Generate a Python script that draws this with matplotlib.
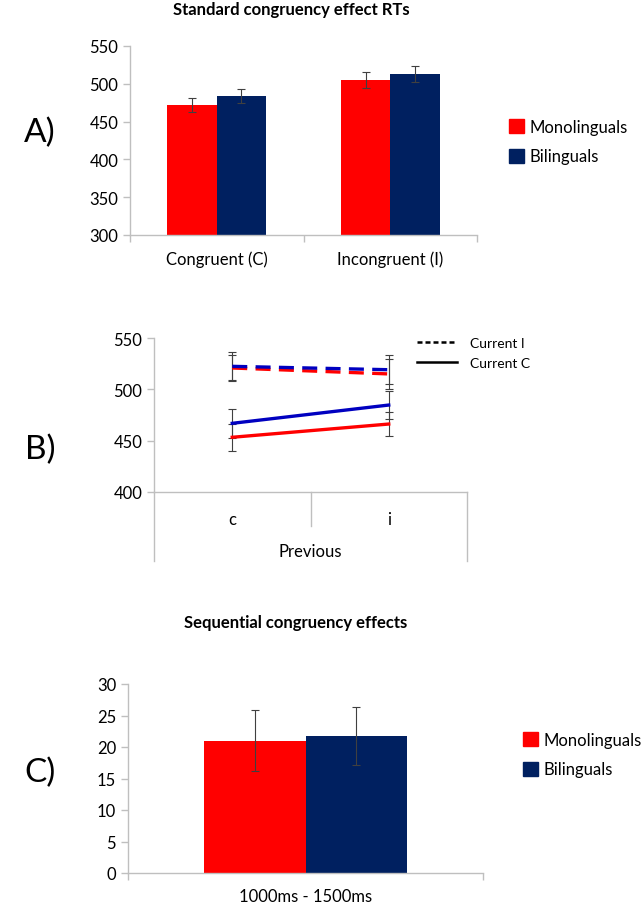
import numpy as np
import matplotlib
matplotlib.use('Agg')
import matplotlib.pyplot as plt
from matplotlib.patches import Patch
from matplotlib.lines import Line2D

plt.rcParams['font.family'] = ['Lato', 'DejaVu Sans']

RED = '#ff0000'
NAVY = '#002060'
BLUE = '#0000c0'
GRID = '#bfbfbf'
ERR = '#404040'

groups = ['Monolinguals', 'Bilinguals']

# panel A: standard congruency effect
a_cats = ['Congruent (C)', 'Incongruent (I)']
a_mono = [472, 504.5]
a_bi = [483.5, 512.5]
a_mono_err = [9.5, 10.5]
a_bi_err = [9.5, 10.5]

# panel B: previous x current
b_prev = ['c', 'i']
b_mono_I = [520.8, 515.0]
b_bi_I = [522.4, 519.1]
b_mono_C = [453.3, 466.2]
b_bi_C = [466.9, 484.7]
b_mono_I_err = [13, 15]
b_bi_I_err = [13.5, 14]
b_mono_C_err = [13, 12]
b_bi_C_err = [14, 14]

# panel C: sequential congruency effects
c_cat = ['1000ms - 1500ms']
c_mono = [21.0]
c_bi = [21.8]
c_mono_err = [4.85]
c_bi_err = [4.6]

W, H = 642, 904
fig = plt.figure(figsize=(W / 100, H / 100), dpi=100)


def px_axes(l, t, r, b):
    return fig.add_axes([l / W, 1 - b / H, (r - l) / W, (b - t) / H])


def style(ax):
    for s in ['top', 'right']:
        ax.spines[s].set_visible(False)
    for s in ['left', 'bottom']:
        ax.spines[s].set_color(GRID)
        ax.spines[s].set_linewidth(1)
    ax.tick_params(axis='y', colors=GRID, labelcolor='black', labelsize=12, length=5, width=1)
    ax.tick_params(axis='x', which='major', length=0, labelsize=12, pad=11)
    ax.tick_params(axis='x', which='minor', colors=GRID, length=5, width=1)


def group_legend(x, y):
    fig.legend(handles=[Patch(color=RED, label=groups[0]), Patch(color=NAVY, label=groups[1])],
               loc='upper left', bbox_to_anchor=(x / W, 1 - y / H), frameon=False,
               borderpad=0, borderaxespad=0, fontsize=12, handlelength=0.9,
               handleheight=0.9, handletextpad=0.35, labelspacing=0.8)


bw = 0.285
ekw = dict(ecolor=ERR, elinewidth=0.8, capsize=3, capthick=0.8)

# ---- A
ax = px_axes(130, 47, 477, 236)
x = np.arange(len(a_cats))
ax.bar(x - bw / 2, a_mono, bw, color=RED, yerr=a_mono_err, error_kw=ekw)
ax.bar(x + bw / 2, a_bi, bw, color=NAVY, yerr=a_bi_err, error_kw=ekw)
ax.set_ylim(300, 550)
ax.set_yticks(np.arange(300, 551, 50))
ax.set_xlim(-0.5, 1.5)
ax.set_xticks(x)
ax.set_xticklabels(a_cats)
ax.set_xticks([-0.5, 0.5, 1.5], minor=True)
style(ax)
fig.text(291 / W, 1 - 10 / H, 'Standard congruency effect RTs', ha='center', va='center',
         fontsize=12, fontweight='bold')
fig.text(40 / W, 1 - 133 / H, 'A)', ha='center', va='center', fontsize=24)
group_legend(509, 120)

# ---- B
ax = px_axes(154, 339, 467, 493)
xb = np.arange(len(b_prev))
lw = 2.4
dash = (0, (4.5, 2.5))
ebkw = dict(fmt='none', ecolor=ERR, elinewidth=0.8, capsize=3, capthick=0.8)
ax.errorbar(xb, b_mono_I, yerr=b_mono_I_err, **ebkw)
ax.errorbar(xb, b_bi_I, yerr=b_bi_I_err, **ebkw)
ax.errorbar(xb, b_mono_C, yerr=b_mono_C_err, **ebkw)
ax.errorbar(xb, b_bi_C, yerr=b_bi_C_err, **ebkw)
ax.plot(xb, b_mono_I, color=RED, lw=lw, linestyle=dash)
ax.plot(xb, b_bi_I, color=BLUE, lw=lw, linestyle=dash)
ax.plot(xb, b_mono_C, color=RED, lw=lw)
ax.plot(xb, b_bi_C, color=BLUE, lw=lw)
ax.set_ylim(400, 550)
ax.set_yticks([400, 450, 500, 550])
ax.set_xlim(-0.5, 1.5)
ax.set_xticks(xb)
ax.set_xticklabels(b_prev)
style(ax)
ax.tick_params(axis='x', which='major', pad=14)
tr = ax.get_xaxis_transform()
ax.plot([-0.5, -0.5], [0, -69 / 154], color=GRID, lw=1, transform=tr, clip_on=False)
ax.plot([1.5, 1.5], [0, -69 / 154], color=GRID, lw=1, transform=tr, clip_on=False)
ax.plot([0.5, 0.5], [0, -34 / 154], color=GRID, lw=1, transform=tr, clip_on=False)
ax.text(0.5, -59 / 154, 'Previous', transform=tr, ha='center', va='center', fontsize=12)
fig.text(40 / W, 1 - 450 / H, 'B)', ha='center', va='center', fontsize=24)
fig.legend(handles=[Line2D([], [], color='black', lw=1.8, linestyle=(0, (2.0, 1.2)), label='Current I'),
                    Line2D([], [], color='black', lw=1.8, label='Current C')],
           loc='upper left', bbox_to_anchor=(417 / W, 1 - 338 / H), frameon=False,
           borderpad=0, borderaxespad=0, fontsize=10, handlelength=2.9,
           handletextpad=0.9, labelspacing=0.6)

# ---- C
ax = px_axes(128, 685, 483, 874)
xc = np.arange(len(c_cat))
ax.bar(xc - bw / 2, c_mono, bw, color=RED, yerr=c_mono_err, error_kw=ekw)
ax.bar(xc + bw / 2, c_bi, bw, color=NAVY, yerr=c_bi_err, error_kw=ekw)
ax.set_ylim(0, 30)
ax.set_yticks(np.arange(0, 31, 5))
ax.set_xlim(-0.5, 0.5)
ax.set_xticks(xc)
ax.set_xticklabels(c_cat)
ax.set_xticks([-0.5, 0.5], minor=True)
style(ax)
fig.text(296 / W, 1 - 623 / H, 'Sequential congruency effects', ha='center', va='center',
         fontsize=12, fontweight='bold')
fig.text(40 / W, 1 - 773 / H, 'C)', ha='center', va='center', fontsize=24)
group_legend(523, 733)

fig.savefig('out.png', dpi=100)
